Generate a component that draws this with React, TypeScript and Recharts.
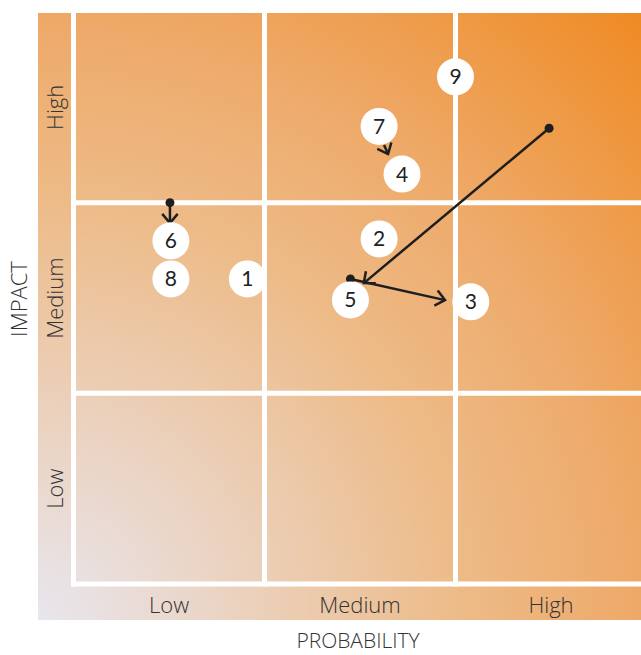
import { ScatterChart, Scatter, XAxis, YAxis, ReferenceLine, Label } from 'recharts';

// Probability / impact levels (each level spans one unit on both axes)
const levelLabels = ['Low', 'Medium', 'High'];
const levelTicks = [0.5, 1.5, 2.5];
const gridPositions = [0, 1, 2];

// Risks, placed by probability (x) and impact (y)
const riskIds = ['1', '2', '3', '4', '5', '6', '7', '8', '9'];
const riskProbability = [0.91, 1.6, 2.08, 1.72, 1.45, 0.51, 1.6, 0.51, 2.0];
const riskImpact = [1.6, 1.81, 1.48, 2.15, 1.49, 1.8, 2.4, 1.6, 2.66];

// Movement arrows: where a risk came from -> where it moved to
const moveFromProbability = [0.505, 2.49, 1.45, 1.626];
const moveFromImpact = [2.0, 2.39, 1.6, 2.302];
const moveToProbability = [0.505, 1.52, 1.945, 1.647];
const moveToImpact = [1.893, 1.578, 1.489, 2.255];
const moveHasDot = [true, true, true, false];

const risks = riskIds.map((id, i) => ({
  id,
  x: riskProbability[i],
  y: riskImpact[i],
}));

const INK = '#1e1e1e';
const LABEL_FONT = '"Open Sans", sans-serif';

function RiskBubble(props: any) {
  const { cx, cy, payload } = props;
  return (
    <g>
      <circle cx={cx} cy={cy} r={18.5} fill="#ffffff" />
      <text
        x={cx}
        y={cy}
        dy="0.36em"
        textAnchor="middle"
        fontFamily="Lato, sans-serif"
        fontSize={21}
        fill="#222"
      >
        {payload.id}
      </text>
    </g>
  );
}

function MoveArrow(props: any) {
  const { x1, y1, x2, y2, withDot } = props;
  const ang = Math.atan2(y2 - y1, x2 - x1);
  const len = 12;
  const spread = (40 * Math.PI) / 180;
  const a1x = x2 - len * Math.cos(ang - spread);
  const a1y = y2 - len * Math.sin(ang - spread);
  const a2x = x2 - len * Math.cos(ang + spread);
  const a2y = y2 - len * Math.sin(ang + spread);
  return (
    <g>
      <line x1={x1} y1={y1} x2={x2} y2={y2} stroke={INK} strokeWidth={2.5} />
      <polyline
        points={`${a1x},${a1y} ${x2},${y2} ${a2x},${a2y}`}
        fill="none"
        stroke={INK}
        strokeWidth={2.5}
      />
      {withDot && <circle cx={x1} cy={y1} r={4.5} fill={INK} />}
    </g>
  );
}

function XTick(props: any) {
  const { x, payload } = props;
  const label = levelLabels[levelTicks.indexOf(payload.value)];
  return (
    <text x={x} y={613} textAnchor="middle" fontFamily={LABEL_FONT} fontWeight={300} fontSize={22} fill="#333">
      {label}
    </text>
  );
}

function YTick(props: any) {
  const { y, payload } = props;
  const label = levelLabels[levelTicks.indexOf(payload.value)];
  const bx = 63;
  return (
    <text
      x={bx}
      y={y}
      transform={`rotate(-90, ${bx}, ${y})`}
      textAnchor="middle"
      fontFamily={LABEL_FONT}
      fontWeight={300}
      fontSize={22}
      fill="#333"
    >
      {label}
    </text>
  );
}

export default function App() {
  return (
    <div
      style={{
        position: 'absolute',
        left: 0,
        top: 0,
        width: 641,
        height: 655,
        overflow: 'hidden',
        background: '#ffffff',
      }}
    >
      {/* gradient backdrop behind the matrix */}
      <div
        style={{
          position: 'absolute',
          left: 38,
          top: 13,
          width: 603,
          height: 607,
          background:
            'radial-gradient(circle 860px at 0% 100%, #e8e6ee 0px, #ebd2bf 200px, #edbb88 419px, #eeaa6a 592px, #ef8a22 860px)',
        }}
      />
      <div style={{ position: 'absolute', left: 0, top: 0 }}>
        <ScatterChart width={680} height={655} margin={{ top: 12, right: 33.5, bottom: 0, left: 0 }}>
          <XAxis
            type="number"
            dataKey="x"
            domain={[0, 3]}
            ticks={levelTicks}
            interval={0}
            tick={<XTick />}
            axisLine={false}
            tickLine={false}
            height={71}
          >
            <Label
              content={(p: any) => {
                const vb = p.viewBox;
                return (
                  <text
                    x={vb.x + vb.width / 2 - 2}
                    y={648}
                    textAnchor="middle"
                    fontFamily={LABEL_FONT}
                    fontWeight={300}
                    fontSize={21}
                    fill="#333"
                  >
                    PROBABILITY
                  </text>
                );
              }}
            />
          </XAxis>
          <YAxis
            type="number"
            dataKey="y"
            domain={[0, 3]}
            ticks={levelTicks}
            interval={0}
            tick={<YTick />}
            axisLine={false}
            tickLine={false}
            width={73.5}
          >
            <Label
              content={(p: any) => {
                const vb = p.viewBox;
                const cy = vb.y + vb.height / 2 + 1;
                return (
                  <text
                    x={27}
                    y={cy}
                    transform={`rotate(-90, 27, ${cy})`}
                    textAnchor="middle"
                    fontFamily={LABEL_FONT}
                    fontWeight={300}
                    fontSize={22}
                    fill="#333"
                  >
                    IMPACT
                  </text>
                );
              }}
            />
          </YAxis>
          {gridPositions.map((v) => (
            <ReferenceLine key={`gx${v}`} x={v} stroke="#ffffff" strokeWidth={5} strokeLinecap="square" />
          ))}
          {gridPositions.map((v) => (
            <ReferenceLine key={`gy${v}`} y={v} stroke="#ffffff" strokeWidth={5} strokeLinecap="square" />
          ))}
          <Scatter data={risks} shape={<RiskBubble />} isAnimationActive={false} />
          {moveHasDot.map((dot, i) => (
            <ReferenceLine
              key={`mv${i}`}
              segment={[
                { x: moveFromProbability[i], y: moveFromImpact[i] },
                { x: moveToProbability[i], y: moveToImpact[i] },
              ]}
              shape={(p: any) => <MoveArrow {...p} withDot={dot} />}
            />
          ))}
        </ScatterChart>
      </div>
    </div>
  );
}
